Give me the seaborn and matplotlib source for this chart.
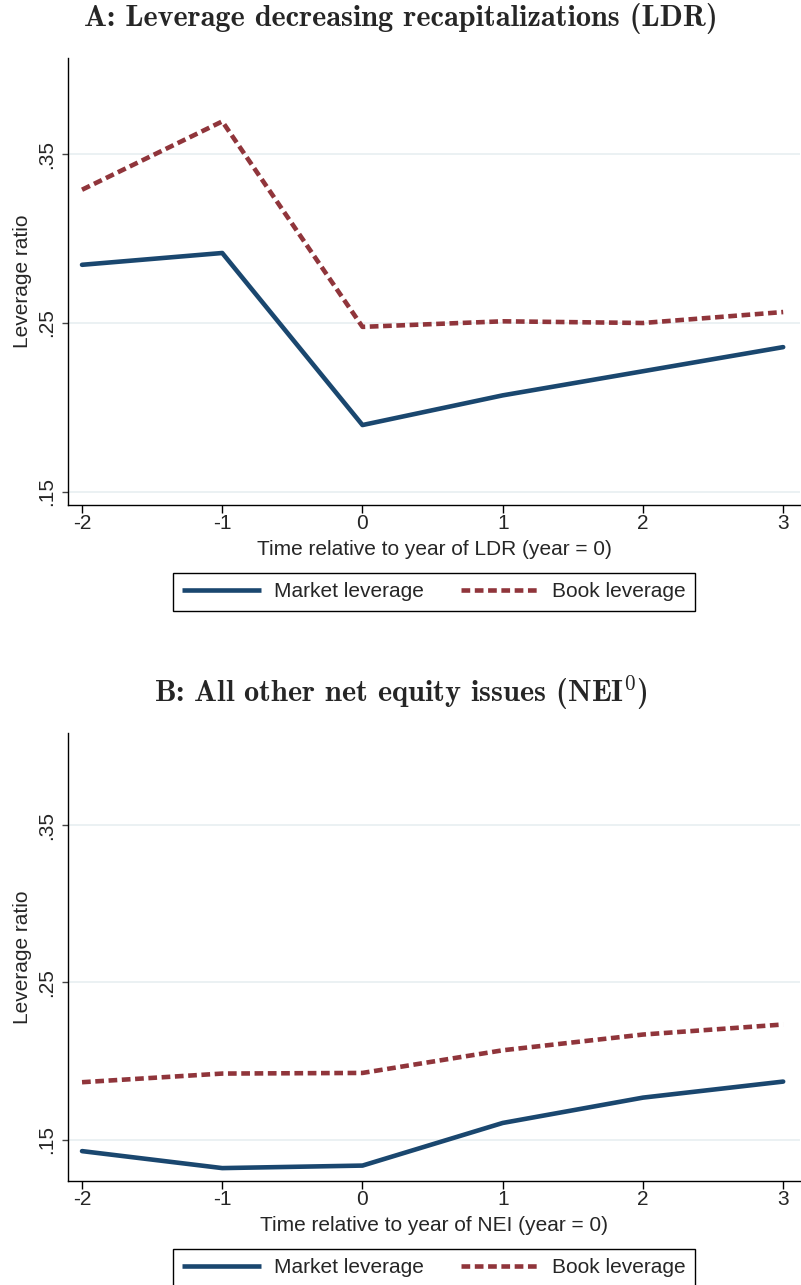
import matplotlib
matplotlib.use("Agg")
import matplotlib.pyplot as plt
from matplotlib.lines import Line2D
import pandas as pd
import seaborn as sns

# Event time relative to the issue year
years = [-2, -1, 0, 1, 2, 3]

# Panel A: leverage decreasing recapitalizations
ldr_market = [0.2845, 0.2915, 0.1895, 0.2071, 0.2214, 0.2357]
ldr_book = [0.3290, 0.3695, 0.2477, 0.2510, 0.2500, 0.2565]

# Panel B: all other net equity issues
nei_market = [0.1427, 0.1319, 0.1335, 0.1606, 0.1767, 0.1869]
nei_book = [0.1865, 0.1920, 0.1924, 0.2068, 0.2168, 0.2232]

series_names = ["Market leverage", "Book leverage"]
ytick_values = [0.15, 0.25, 0.35]
ytick_labels = [".15", ".25", ".35"]

sns.set_theme(style="ticks")
plt.rcParams["font.family"] = ["Liberation Sans", "DejaVu Sans"]
plt.rcParams["mathtext.fontset"] = "cm"

NAVY = "#1a476f"
MAROON = "#90353b"
GRID = "#e9f0f2"
LW = 3.3
palette = {series_names[0]: NAVY, series_names[1]: MAROON}
dash_map = {series_names[0]: "", series_names[1]: (1.9, 1.0)}

W, H = 801, 1285
fig = plt.figure(figsize=(W / 100, H / 100), dpi=100)


def px_axes(left, top, right, bottom):
    return fig.add_axes([left / W, 1 - bottom / H, (right - left) / W, (bottom - top) / H])


def long_frame(market, book):
    return pd.DataFrame({
        "year": years * 2,
        "value": market + book,
        "series": [series_names[0]] * len(years) + [series_names[1]] * len(years),
    })


def draw_panel(ax, market, book, ylim, xlabel):
    df = long_frame(market, book)
    sns.lineplot(data=df, x="year", y="value", hue="series", style="series",
                 palette=palette, dashes=dash_map, linewidth=LW, legend=False,
                 ax=ax, zorder=3)
    ax.set_xlim(-2.1, 3.12)
    ax.set_ylim(*ylim)
    ax.set_xticks(years)
    ax.set_xticklabels([str(y) for y in years], fontsize=15)
    ax.set_yticks(ytick_values)
    ax.set_yticklabels(ytick_labels, fontsize=15, rotation=90, va="center")
    ax.yaxis.grid(True, color=GRID, linewidth=1.3, zorder=0)
    ax.xaxis.grid(False)
    for side in ("top", "right"):
        ax.spines[side].set_visible(False)
    for side in ("left", "bottom"):
        ax.spines[side].set_color("black")
        ax.spines[side].set_linewidth(1.0)
    ax.tick_params(axis="y", length=4.5, width=1, color="#444444", pad=4)
    ax.tick_params(axis="x", length=5.8, width=1, color="black", pad=1)
    ax.set_ylabel("Leverage ratio", fontsize=15)
    ax.yaxis.set_label_coords(-0.049, 0.5)
    ax.set_xlabel(xlabel, fontsize=15)
    ax.xaxis.set_label_coords(0.5, -0.078)

    handles = [
        Line2D([], [], color=NAVY, linewidth=LW, solid_capstyle="butt"),
        Line2D([], [], color=MAROON, linewidth=LW, dashes=dash_map[series_names[1]]),
    ]
    leg = ax.legend(handles, series_names, loc="upper center",
                    bbox_to_anchor=(0.5, -0.152), ncol=2, fontsize=15,
                    frameon=True, fancybox=False, edgecolor="black",
                    framealpha=1, handlelength=3.75, handletextpad=0.62,
                    columnspacing=1.8, borderpad=0.45, borderaxespad=0)
    leg.get_frame().set_linewidth(1.0)


ax_a = px_axes(68, 58, 800, 505)
draw_panel(ax_a, ldr_market, ldr_book, (0.1421, 0.4071),
           "Time relative to year of LDR (year = 0)")

ax_b = px_axes(68, 733, 800, 1181)
draw_panel(ax_b, nei_market, nei_book, (0.1237, 0.4085),
           "Time relative to year of NEI (year = 0)")

fig.text(0.5, 1 - 19 / H, "A: Leverage decreasing recapitalizations (LDR)",
         ha="center", va="center", fontsize=21.8, family="cmb10")
fig.text(0.5, 1 - 693 / H, "B: All other net equity issues (NEI$^0$)",
         ha="center", va="center", fontsize=21.8, family="cmb10")

fig.savefig("out.png", dpi=100, facecolor="white")
